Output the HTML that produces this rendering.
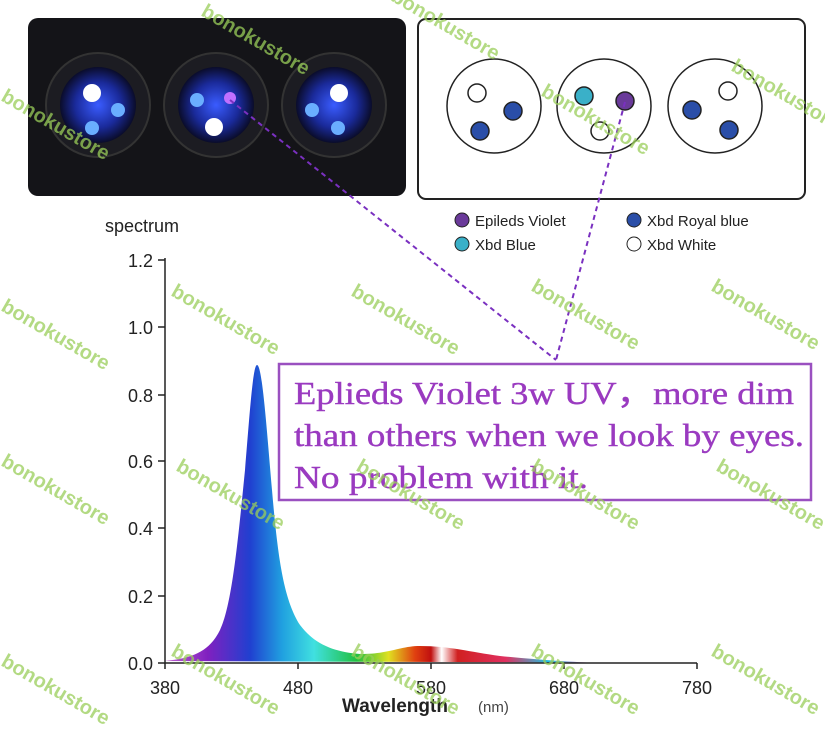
<!DOCTYPE html>
<html><head><meta charset="utf-8"><style>
body{margin:0;background:#fff;width:825px;height:736px;overflow:hidden;font-family:"Liberation Sans",sans-serif}
</style></head><body>
<svg width="825" height="736" viewBox="0 0 825 736" xmlns="http://www.w3.org/2000/svg">
<defs>
<radialGradient id="glow"><stop offset="0" stop-color="#3a5cff"/><stop offset="0.6" stop-color="#1a2a9a"/><stop offset="1" stop-color="#0a0c2a"/></radialGradient>
<linearGradient id="spec" x1="165" x2="697" gradientUnits="userSpaceOnUse">
<stop offset="0" stop-color="#c060d0"/><stop offset="0.08" stop-color="#8020c0"/>
<stop offset="0.16" stop-color="#2040d0"/><stop offset="0.22" stop-color="#20a0e0"/>
<stop offset="0.28" stop-color="#40e0e0"/><stop offset="0.36" stop-color="#20c040"/>
<stop offset="0.42" stop-color="#e0e020"/><stop offset="0.47" stop-color="#e04010"/>
<stop offset="0.5" stop-color="#c01010"/><stop offset="0.52" stop-color="#ffffff"/>
<stop offset="0.55" stop-color="#d02020"/><stop offset="0.64" stop-color="#e03060"/>
<stop offset="0.72" stop-color="#20c0e0"/><stop offset="0.8" stop-color="#d060c0"/>
<stop offset="1" stop-color="#f0d0f0"/></linearGradient>
</defs>
<rect x="28" y="18" width="378" height="178" rx="10" fill="#141418"/>
<g>
<circle cx="98" cy="105" r="52" fill="#1c1c22" stroke="#333" stroke-width="2"/>
<circle cx="98" cy="105" r="38" fill="url(#glow)"/>
<circle cx="92" cy="93" r="9" fill="#fff"/><circle cx="118" cy="110" r="7" fill="#6aaeff"/><circle cx="92" cy="128" r="7" fill="#6aaeff"/>
<circle cx="216" cy="105" r="52" fill="#1c1c22" stroke="#333" stroke-width="2"/>
<circle cx="216" cy="105" r="38" fill="url(#glow)"/>
<circle cx="197" cy="100" r="7" fill="#6aaeff"/><circle cx="230" cy="98" r="6" fill="#c070ff"/><circle cx="214" cy="127" r="9" fill="#fff"/>
<circle cx="334" cy="105" r="52" fill="#1c1c22" stroke="#333" stroke-width="2"/>
<circle cx="334" cy="105" r="38" fill="url(#glow)"/>
<circle cx="339" cy="93" r="9" fill="#fff"/><circle cx="312" cy="110" r="7" fill="#6aaeff"/><circle cx="338" cy="128" r="7" fill="#6aaeff"/>
</g>
<rect x="418" y="19" width="387" height="180" rx="8" fill="#fff" stroke="#222" stroke-width="2"/>
<g stroke="#222" stroke-width="1.5">
<circle cx="494" cy="106" r="47" fill="#fff"/><circle cx="477" cy="93" r="9" fill="#fff"/><circle cx="513" cy="111" r="9" fill="#2a4ea8"/><circle cx="480" cy="131" r="9" fill="#2a4ea8"/>
<circle cx="604" cy="106" r="47" fill="#fff"/><circle cx="584" cy="96" r="9" fill="#3ab0c8"/><circle cx="625" cy="101" r="9" fill="#6a3a9a"/><circle cx="600" cy="131" r="9" fill="#fff"/>
<circle cx="715" cy="106" r="47" fill="#fff"/><circle cx="728" cy="91" r="9" fill="#fff"/><circle cx="692" cy="110" r="9" fill="#2a4ea8"/><circle cx="729" cy="130" r="9" fill="#2a4ea8"/>
</g>
<g font-size="15" fill="#222">
<circle cx="462" cy="220" r="7" fill="#6a3a9a" stroke="#222"/><text x="475" y="226">Epileds Violet</text>
<circle cx="634" cy="220" r="7" fill="#2a4ea8" stroke="#222"/><text x="647" y="226">Xbd Royal blue</text>
<circle cx="462" cy="244" r="7" fill="#3ab0c8" stroke="#222"/><text x="475" y="250">Xbd Blue</text>
<circle cx="634" cy="244" r="7" fill="#fff" stroke="#222"/><text x="647" y="250">Xbd White</text>
</g>
<text x="105" y="232" font-size="18" fill="#222">spectrum</text>
<path d="M165,661 C195,658 210,650 220,630 C232,605 238,540 245,470 C250,410 253,365 257,365 C262,365 266,420 272,490 C278,560 284,600 300,625 C315,645 335,652 360,654 C390,654 400,646 420,646 C450,646 470,652 500,656 C540,660 570,662 600,663 L697,663 Z" fill="url(#spec)"/>
<g stroke="#222" stroke-width="1.5" fill="none">
<path d="M165,258 V663 H697"/>
<path d="M158,260H165M158,327H165M158,395H165M158,461H165M158,528H165M158,596H165M158,663H165"/>
<path d="M165,663v6M298,663v6M431,663v6M564,663v6M697,663v6"/>
</g>
<g font-size="18" fill="#222" text-anchor="end">
<text x="153" y="267">1.2</text><text x="153" y="334">1.0</text><text x="153" y="402">0.8</text><text x="153" y="468">0.6</text><text x="153" y="535">0.4</text><text x="153" y="603">0.2</text><text x="153" y="670">0.0</text>
</g>
<g font-size="18" fill="#222" text-anchor="middle">
<text x="165" y="694">380</text><text x="298" y="694">480</text><text x="431" y="694">580</text><text x="564" y="694">680</text><text x="697" y="694">780</text>
</g>
<text x="342" y="712" font-size="19" font-weight="bold" fill="#222">Wavelength</text>
<text x="478" y="712" font-size="15" fill="#444">(nm)</text>
<path d="M230,100 L556,360 M625,102 L556,360" stroke="#7a30c0" stroke-width="2" stroke-dasharray="5,4" fill="none"/>
<rect x="279" y="364" width="532" height="136" fill="#fff" fill-opacity="0.9" stroke="#9a50c0" stroke-width="2.5"/>
<g font-family="Liberation Serif,serif" font-size="32" fill="#9a3ac0" stroke="#9a3ac0" stroke-width="0.4">
<text x="294" y="404" textLength="500" lengthAdjust="spacingAndGlyphs">Eplieds Violet 3w UV，more dim</text>
<text x="294" y="446" textLength="510" lengthAdjust="spacingAndGlyphs">than others when we look by eyes.</text>
<text x="294" y="488" textLength="294" lengthAdjust="spacingAndGlyphs">No problem with it.</text>
</g>
<g font-size="20" font-weight="bold" fill="#9acd5a" fill-opacity="0.75">
<text transform="translate(0,100) rotate(30)">bonokustore</text>
<text transform="translate(200,15) rotate(30)">bonokustore</text>
<text transform="translate(390,0) rotate(30)">bonokustore</text>
<text transform="translate(540,95) rotate(30)">bonokustore</text>
<text transform="translate(730,70) rotate(30)">bonokustore</text>
<text transform="translate(170,295) rotate(30)">bonokustore</text>
<text transform="translate(350,295) rotate(30)">bonokustore</text>
<text transform="translate(530,290) rotate(30)">bonokustore</text>
<text transform="translate(710,290) rotate(30)">bonokustore</text>
<text transform="translate(0,310) rotate(30)">bonokustore</text>
<text transform="translate(0,465) rotate(30)">bonokustore</text>
<text transform="translate(175,470) rotate(30)">bonokustore</text>
<text transform="translate(355,470) rotate(30)">bonokustore</text>
<text transform="translate(530,470) rotate(30)">bonokustore</text>
<text transform="translate(715,470) rotate(30)">bonokustore</text>
<text transform="translate(0,665) rotate(30)">bonokustore</text>
<text transform="translate(170,655) rotate(30)">bonokustore</text>
<text transform="translate(350,655) rotate(30)">bonokustore</text>
<text transform="translate(530,655) rotate(30)">bonokustore</text>
<text transform="translate(710,655) rotate(30)">bonokustore</text>
</g>
</svg>
</body></html>
